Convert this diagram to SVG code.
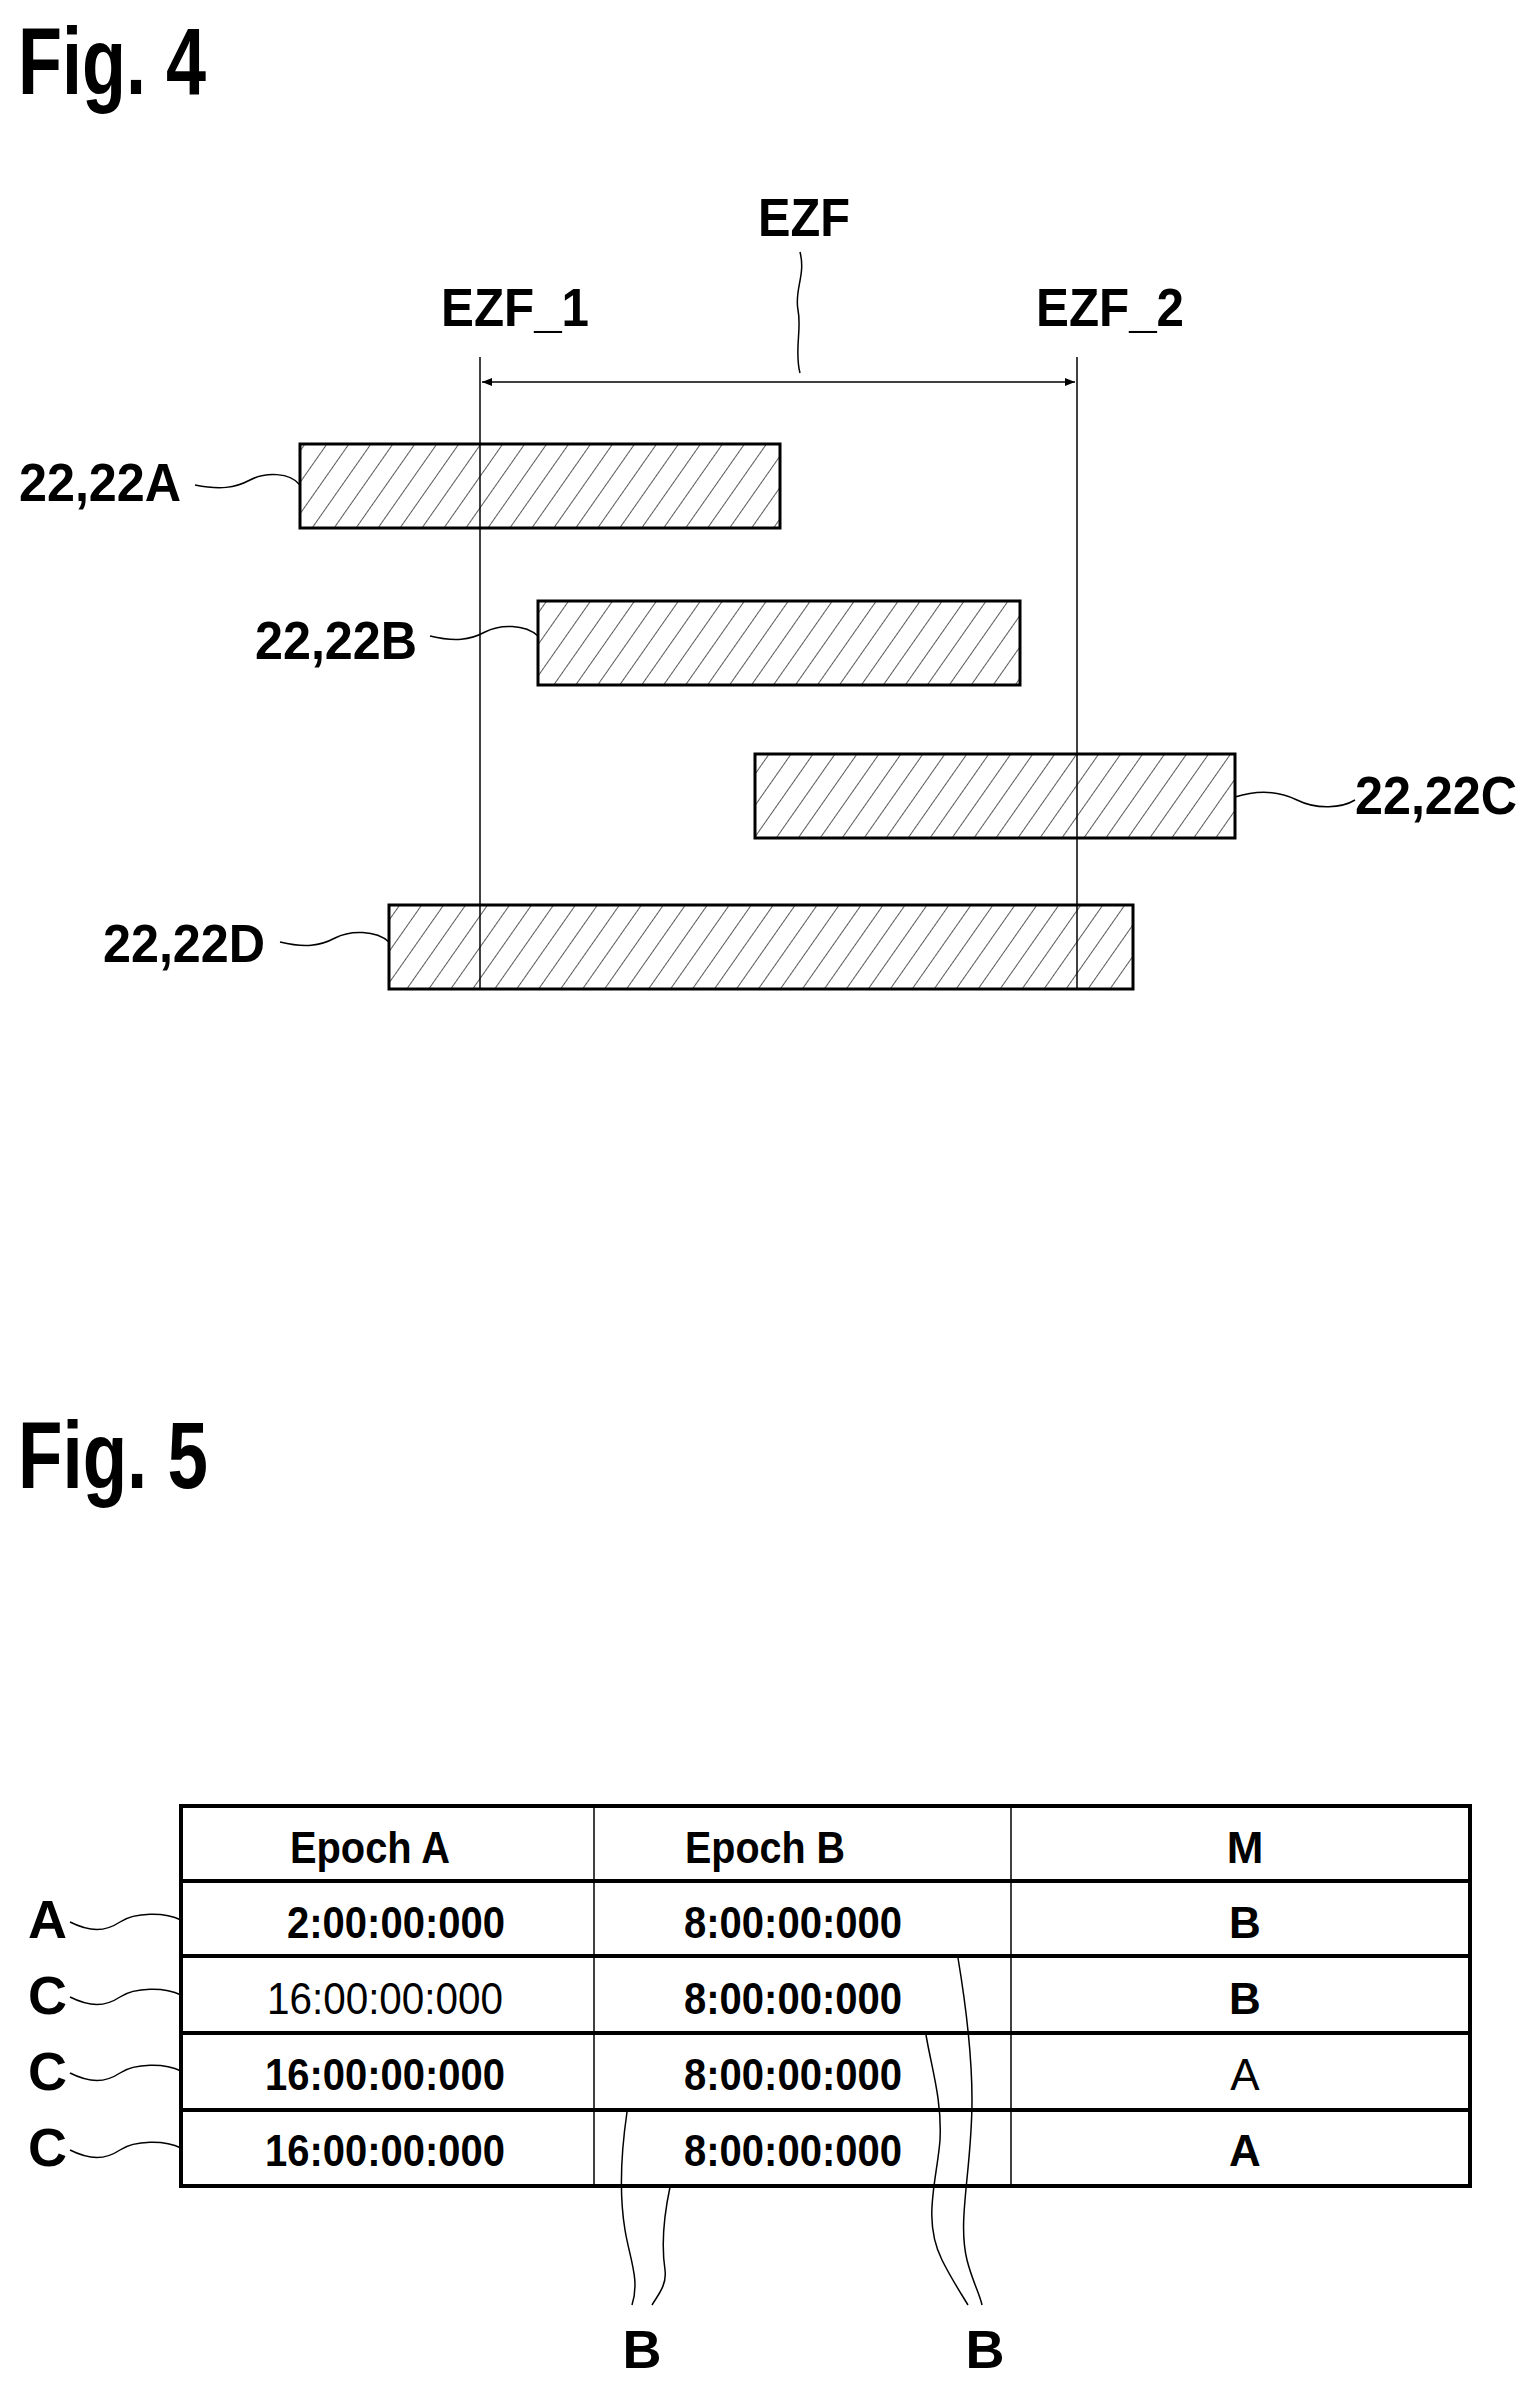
<svg xmlns="http://www.w3.org/2000/svg" width="1526" height="2386" viewBox="0 0 1526 2386">
<defs>
<style>
text{font-family:"Liberation Sans",Arial,sans-serif;font-weight:bold;fill:#000}
.fig{font-size:95px}
.lbl{font-size:54px}
.cell{font-size:44px;text-anchor:middle}
.thin{fill:none;stroke:#000;stroke-width:1.5}
.bar{fill:url(#hatch);stroke:#000;stroke-width:3}
.tb{fill:none;stroke:#000;stroke-width:4}
</style>
<pattern id="hatch" patternUnits="userSpaceOnUse" width="18" height="18" patternTransform="rotate(35)">
<rect width="18" height="18" fill="#fff"/>
<line x1="0" y1="0" x2="0" y2="18" stroke="#000" stroke-width="1.3"/>
</pattern>
<marker id="ah" viewBox="0 0 10 10" refX="10" refY="5" markerWidth="22" markerHeight="10" markerUnits="userSpaceOnUse" orient="auto-start-reverse">
<path d="M0,1 L10,5 L0,9 z" fill="#000"/>
</marker>
</defs>

<text class="fig" x="18" y="94" textLength="188" lengthAdjust="spacingAndGlyphs">Fig. 4</text>
<text class="fig" x="18" y="1488" textLength="190" lengthAdjust="spacingAndGlyphs">Fig. 5</text>

<g id="bars">
<g id="bar22A"><rect class="bar" x="300" y="444" width="480" height="84"/></g>
<g id="bar22B"><rect class="bar" x="538" y="601" width="482" height="84"/></g>
<g id="bar22C"><rect class="bar" x="755" y="754" width="480" height="84"/></g>
<g id="bar22D"><rect class="bar" x="389" y="905" width="744" height="84"/></g>
</g>

<g id="labels4">
<text class="lbl" x="804" y="236" text-anchor="middle" textLength="92" lengthAdjust="spacingAndGlyphs">EZF</text>
<text class="lbl" x="515" y="326" text-anchor="middle" textLength="148" lengthAdjust="spacingAndGlyphs">EZF_1</text>
<text class="lbl" x="1110" y="326" text-anchor="middle" textLength="148" lengthAdjust="spacingAndGlyphs">EZF_2</text>
<text class="lbl" x="181" y="501" text-anchor="end" textLength="162" lengthAdjust="spacingAndGlyphs">22,22A</text>
<text class="lbl" x="417" y="659" text-anchor="end" textLength="162" lengthAdjust="spacingAndGlyphs">22,22B</text>
<text class="lbl" x="1355" y="814" textLength="162" lengthAdjust="spacingAndGlyphs">22,22C</text>
<text class="lbl" x="265" y="962" text-anchor="end" textLength="162" lengthAdjust="spacingAndGlyphs">22,22D</text>
</g>

<g id="connectors">
<line class="thin" x1="480" y1="357" x2="480" y2="989"/>
<line class="thin" x1="1077" y1="357" x2="1077" y2="989"/>
<line class="thin" x1="482" y1="382" x2="1075" y2="382" marker-start="url(#ah)" marker-end="url(#ah)"/>
<path class="thin" d="M800,252 C806,275 794,290 798,310 C802,330 794,350 800,373"/>
<path class="thin" d="M195,485 C220,490 235,488 250,480 C265,472 290,472 300,485"/>
<path class="thin" d="M430,636 C455,642 470,640 485,632 C500,624 525,624 538,636"/>
<path class="thin" d="M1235,797 C1257,790 1277,790 1297,800 C1317,810 1342,808 1355,800"/>
<path class="thin" d="M280,942 C305,948 320,946 335,938 C350,930 376,930 389,942"/>
</g>

<g id="table">
<rect class="tb" x="181" y="1806" width="1289" height="380"/>
<line class="tb" x1="181" y1="1881" x2="1470" y2="1881"/>
<line class="tb" x1="181" y1="1956" x2="1470" y2="1956"/>
<line class="tb" x1="181" y1="2033" x2="1470" y2="2033"/>
<line class="tb" x1="181" y1="2110" x2="1470" y2="2110"/>
<line class="thin" x1="594" y1="1806" x2="594" y2="2186"/>
<line class="thin" x1="1011" y1="1806" x2="1011" y2="2186"/>
<text class="cell" x="370" y="1863" textLength="160" lengthAdjust="spacingAndGlyphs">Epoch A</text>
<text class="cell" x="765" y="1863" textLength="160" lengthAdjust="spacingAndGlyphs">Epoch B</text>
<text class="cell" x="1245" y="1863">M</text>
<text class="cell" x="396" y="1938" textLength="218" lengthAdjust="spacingAndGlyphs">2:00:00:000</text>
<text class="cell" x="793" y="1938" textLength="218" lengthAdjust="spacingAndGlyphs">8:00:00:000</text>
<text class="cell" x="1245" y="1938">B</text>
<text class="cell" x="385" y="2014" style="font-weight:normal" textLength="236" lengthAdjust="spacingAndGlyphs">16:00:00:000</text>
<text class="cell" x="793" y="2014" textLength="218" lengthAdjust="spacingAndGlyphs">8:00:00:000</text>
<text class="cell" x="1245" y="2014">B</text>
<text class="cell" x="385" y="2090" textLength="240" lengthAdjust="spacingAndGlyphs">16:00:00:000</text>
<text class="cell" x="793" y="2090" textLength="218" lengthAdjust="spacingAndGlyphs">8:00:00:000</text>
<text class="cell" x="1245" y="2090" style="font-weight:normal">A</text>
<text class="cell" x="385" y="2166" textLength="240" lengthAdjust="spacingAndGlyphs">16:00:00:000</text>
<text class="cell" x="793" y="2166" textLength="218" lengthAdjust="spacingAndGlyphs">8:00:00:000</text>
<text class="cell" x="1245" y="2166">A</text>
</g>

<g id="labels5">
<text class="lbl" x="28" y="1938">A</text>
<text class="lbl" x="28" y="2014">C</text>
<text class="lbl" x="28" y="2090">C</text>
<text class="lbl" x="28" y="2166">C</text>
<text class="lbl" x="642" y="2368" text-anchor="middle">B</text>
<text class="lbl" x="985" y="2368" text-anchor="middle">B</text>
</g>

<g id="connectors5">
<path class="thin" d="M70,1922 C90,1932 105,1932 120,1922 C135,1912 165,1912 181,1920"/>
<path class="thin" d="M70,1997 C90,2007 105,2007 120,1997 C135,1987 165,1987 181,1995"/>
<path class="thin" d="M70,2073 C90,2083 105,2083 120,2073 C135,2063 165,2063 181,2071"/>
<path class="thin" d="M70,2150 C90,2160 105,2160 120,2150 C135,2140 165,2140 181,2148"/>
<path class="thin" d="M627,2112 C620,2160 620,2200 625,2230 C630,2260 640,2280 632,2305"/>
<path class="thin" d="M670,2187 C663,2220 662,2250 665,2270 C667,2285 658,2295 652,2305"/>
<path class="thin" d="M958,1958 C965,2000 972,2050 972,2100 C972,2170 957,2220 967,2260 C972,2280 980,2295 982,2305"/>
<path class="thin" d="M926,2035 C932,2070 942,2100 940,2140 C937,2180 922,2220 942,2260 C952,2280 962,2295 968,2305"/>
</g>
</svg>
